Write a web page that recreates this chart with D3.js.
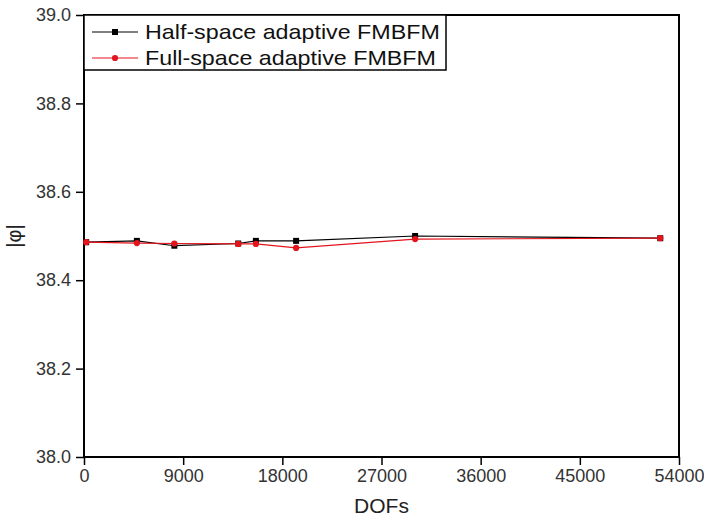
<!DOCTYPE html>
<html>
<head>
<meta charset="utf-8">
<script src="https://cdn.jsdelivr.net/npm/d3@7"></script>
<style>
  body { margin: 0; background: #fff; }
  svg { display: block; font-family: "Liberation Sans", Arial, sans-serif; }
</style>
</head>
<body>
<div id="chart"></div>
<script>
// DOFs for each refinement step
const dofs = [200, 4800, 8200, 14000, 15600, 19250, 30050, 52300];
const halfSpace = [38.486, 38.489, 38.478, 38.483, 38.489, 38.489, 38.500, 38.495];
const fullSpace = [38.486, 38.484, 38.483, 38.482, 38.482, 38.473, 38.493, 38.495];
const xTicks = [0, 9000, 18000, 27000, 36000, 45000, 54000];
const yTicks = [38.0, 38.2, 38.4, 38.6, 38.8, 39.0];
const seriesNames = ["Half-space adaptive FMBFM", "Full-space adaptive FMBFM"];

const W = 704, H = 518;
const margin = {top: 15, right: 25, bottom: 61, left: 84};
const width = W - margin.left - margin.right;
const height = H - margin.top - margin.bottom;

const svg = d3.select('#chart').append('svg')
  .attr('width', W)
  .attr('height', H);

const g = svg.append('g')
  .attr('transform', `translate(${margin.left},${margin.top})`);

const xscale = d3.scaleLinear().domain([0, 54000]).range([0, width]);
const yscale = d3.scaleLinear().domain([38.0, 39.0]).range([height, 0]);

const xaxis = d3.axisBottom(xscale).tickValues(xTicks).tickSize(8).tickSizeOuter(0).tickPadding(4)
  .tickFormat(d3.format('d'));
const yaxis = d3.axisLeft(yscale).tickValues(yTicks).tickSize(8).tickSizeOuter(0).tickPadding(5)
  .tickFormat(d3.format('.1f'));

const g_xaxis = g.append('g').attr('class', 'x axis')
  .attr('transform', `translate(0,${height})`).call(xaxis);
const g_yaxis = g.append('g').attr('class', 'y axis').call(yaxis);

[g_xaxis, g_yaxis].forEach(a => {
  a.selectAll('line').attr('stroke', '#000').attr('stroke-width', 1.5);
  a.selectAll('text').attr('fill', '#333').style('font-size', '18px');
  a.select('.domain').remove();
});

// frame
g.append('rect')
  .attr('width', width)
  .attr('height', height)
  .attr('fill', 'none')
  .attr('stroke', '#000')
  .attr('stroke-width', 2);

// axis titles
svg.append('text')
  .attr('x', margin.left + width / 2)
  .attr('y', 513)
  .attr('text-anchor', 'middle')
  .attr('fill', '#222')
  .style('font-size', '21px')
  .text('DOFs');

svg.append('text')
  .attr('transform', `translate(21,${margin.top + yscale(38.5)}) rotate(-90)`)
  .attr('text-anchor', 'middle')
  .attr('fill', '#222')
  .style('font-size', '20px')
  .text('|φ|');

const series = [
  {name: seriesNames[0], values: halfSpace, color: '#000', shape: 'square'},
  {name: seriesNames[1], values: fullSpace, color: '#e3141c', shape: 'circle'}
];

const line = d3.line()
  .x(d => xscale(d[0]))
  .y(d => yscale(d[1]));

series.forEach(s => {
  const pts = dofs.map((x, i) => [x, s.values[i]]);
  g.append('path')
    .datum(pts)
    .attr('fill', 'none')
    .attr('stroke', s.color)
    .attr('stroke-width', 1.2)
    .attr('d', line);
  const sym = d3.symbol().type(s.shape === 'square' ? d3.symbolSquare : d3.symbolCircle).size(s.shape === 'square' ? 36 : 30);
  g.selectAll(null).data(pts).enter().append('path')
    .attr('transform', d => `translate(${xscale(d[0])},${yscale(d[1])})`)
    .attr('d', sym)
    .attr('fill', s.color);
});

// legend
const legend = g.append('g').attr('class', 'legend');
legend.append('rect')
  .attr('x', 0).attr('y', 0)
  .attr('width', 362).attr('height', 55)
  .attr('fill', '#fff')
  .attr('stroke', '#000')
  .attr('stroke-width', 1.5);

// the original legend font is a bit wider than Liberation Sans, so stretch it
let stretch = 1;
series.forEach((s, i) => {
  const ly = 17 + i * 26;
  legend.append('line')
    .attr('x1', 8).attr('x2', 54)
    .attr('y1', ly).attr('y2', ly)
    .attr('stroke', s.color).attr('stroke-width', 1.2);
  legend.append('path')
    .attr('transform', `translate(31,${ly})`)
    .attr('d', d3.symbol().type(s.shape === 'square' ? d3.symbolSquare : d3.symbolCircle).size(s.shape === 'square' ? 36 : 30))
    .attr('fill', s.color);
  const t = legend.append('text')
    .attr('x', 0).attr('y', 0)
    .attr('dy', '0.35em')
    .attr('fill', '#111')
    .style('font-size', '20.5px')
    .text(s.name);
  if (i === 0) stretch = 295 / t.node().getComputedTextLength();
  t.attr('transform', `translate(61,${ly}) scale(${stretch},1)`);
});
</script>
</body>
</html>
